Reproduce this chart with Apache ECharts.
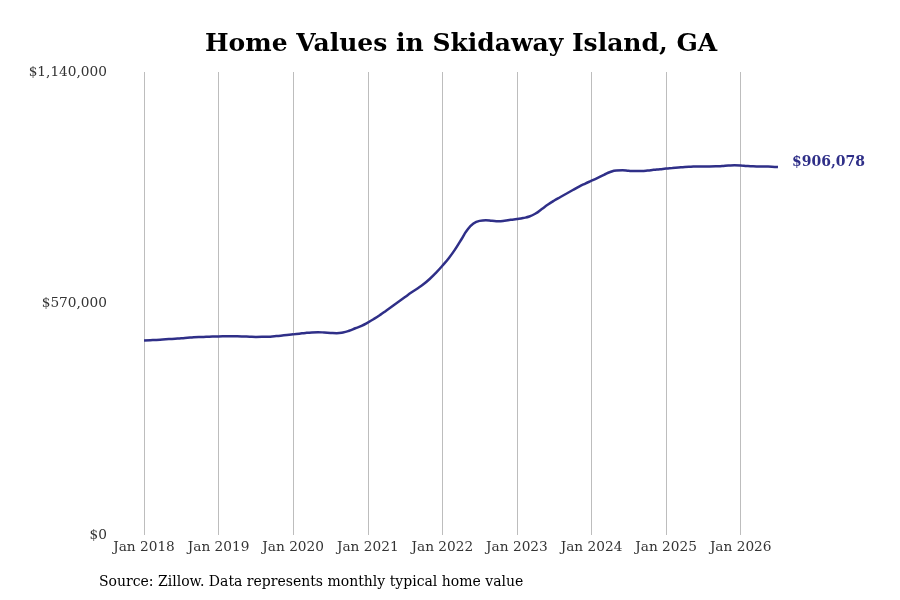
<!DOCTYPE html>
<html>
<head>
<meta charset="utf-8">
<title>Home Values in Skidaway Island, GA</title>
<script src="https://cdn.jsdelivr.net/npm/echarts@6/dist/echarts.min.js"></script>
<style>
  html, body { margin: 0; padding: 0; background: #fff; }
  #chart { width: 900px; height: 600px; }
</style>
</head>
<body>
<div id="chart"></div>
<script>
// monthly typical home value, Jan 2018 .. Jul 2026
const years = [2018, 2019, 2020, 2021, 2022, 2023, 2024, 2025, 2026];

const values2018 = [478900, 479600, 480300, 481300, 482300, 483300, 484300, 485500, 486700, 487500, 488000, 488500];
const values2019 = [489000, 489200, 489300, 489200, 488800, 488200, 487800, 487900, 488300, 489500, 490800, 492300];
const values2020 = [494000, 495800, 497600, 498800, 499200, 498600, 497600, 497000, 498800, 503000, 509000, 515000];
const values2021 = [523000, 532000, 542000, 553000, 564000, 575000, 586000, 597000, 607000, 618000, 631000, 646000];
const values2022 = [663000, 681000, 702000, 726300, 750900, 766900, 773500, 775000, 773500, 772300, 773500, 776000];
const values2023 = [778000, 780500, 784100, 791500, 802600, 813700, 823500, 832200, 840800, 849400, 858000, 865400];
const values2024 = [872300, 879400, 886800, 893700, 897400, 897900, 896700, 896200, 896400, 897400, 899100, 900600];
const values2025 = [902300, 903600, 905000, 906300, 907000, 907500, 907500, 907500, 907700, 908500, 909700, 910400];
const values2026 = [909900, 908500, 907700, 907500, 907200, 906900, 906078];

const values = [].concat(values2018, values2019, values2020, values2021,
  values2022, values2023, values2024, values2025, values2026);

const monthNames = ['Jan', 'Feb', 'Mar', 'Apr', 'May', 'Jun', 'Jul', 'Aug', 'Sep', 'Oct', 'Nov', 'Dec'];
const months = values.map((v, i) => monthNames[i % 12] + ' ' + years[Math.floor(i / 12)]);

const yTicks = [0, 570000, 1140000];

const serif = 'DejaVu Serif';
const lineColor = '#2f2f88';

const fmtMoney = (v) => '$' + Math.round(v).toLocaleString('en-US');

const chart = echarts.init(document.getElementById('chart'));

chart.setOption({
  backgroundColor: '#fff',
  animation: false,
  title: {
    text: 'Home Values in Skidaway Island, GA',
    left: 200,
    top: 27,
    textStyle: { fontFamily: serif, fontSize: 25, fontWeight: 'bold', color: '#000' }
  },
  grid: { left: 144, right: 122, top: 72, bottom: 65, containLabel: false },
  xAxis: {
    type: 'category',
    data: months,
    boundaryGap: false,
    axisLine: { show: false },
    axisTick: { show: false },
    axisLabel: {
      interval: (i) => i % 12 === 0,
      margin: 5,
      fontFamily: serif,
      fontSize: 13.7,
      color: '#333'
    },
    splitLine: {
      show: true,
      interval: (i) => i % 12 === 0,
      lineStyle: { color: '#bdbdbd', width: 1 }
    }
  },
  yAxis: {
    type: 'value',
    min: yTicks[0],
    max: yTicks[yTicks.length - 1],
    interval: yTicks[1] - yTicks[0],
    axisLine: { show: false },
    axisTick: { show: false },
    splitLine: { show: false },
    axisLabel: {
      margin: 37,
      fontFamily: serif,
      fontSize: 13.7,
      color: '#333',
      formatter: fmtMoney
    }
  },
  series: [{
    type: 'line',
    data: values,
    smooth: true,
    symbol: 'none',
    lineStyle: { color: lineColor, width: 2.5 },
    endLabel: {
      show: true,
      distance: 14,
      offset: [0, -5],
      formatter: (p) => fmtMoney(p.value),
      fontFamily: serif,
      fontSize: 14,
      fontWeight: 'bold',
      color: lineColor
    }
  }],
  graphic: [{
    type: 'text',
    left: 99,
    top: 575,
    style: {
      text: 'Source: Zillow. Data represents monthly typical home value',
      font: '14px "DejaVu Serif"',
      fill: '#000'
    }
  }]
});
</script>
</body>
</html>
